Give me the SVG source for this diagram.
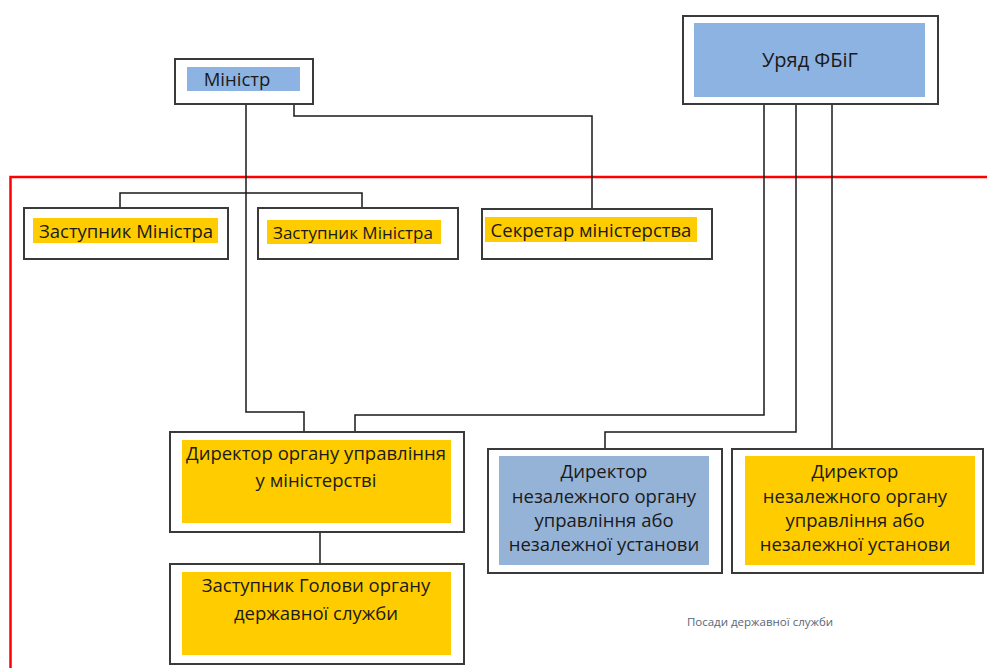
<svg xmlns="http://www.w3.org/2000/svg" width="987" height="668" viewBox="0 0 987 668">
<style>
.box{fill:#fff;stroke:#3a3a3a;stroke-width:2}
.y{fill:#ffcc00}
.b{fill:#8db3e2}
.b2{fill:#95b3d7}
.t{font-family:"Open Sans","Noto Sans","DejaVu Sans",sans-serif;font-size:18.5px;fill:#1a1a1a;text-anchor:middle}
.conn{fill:none;stroke:#1a1a1a;stroke-width:1.5}
</style>
<rect x="0" y="0" width="987" height="668" fill="#fff"/>
<rect id="frame" x="10.5" y="177" width="990" height="510" fill="none" stroke="#ff0000" stroke-width="2.5"/>
<g id="connectors">
<path class="conn" d="M246,105 V412 H304 V432"/>
<path class="conn" d="M294,105 V116 H592 V209"/>
<path class="conn" d="M120,208 V193 H362 V208"/>
<path class="conn" d="M764,104 V415 H355 V432"/>
<path class="conn" d="M796,104 V432 H605 V449"/>
<path class="conn" d="M832,104 V449"/>
<path class="conn" d="M320,532 V564"/>
</g>
<g id="minister">
<rect class="box" x="175" y="59" width="138" height="45"/>
<rect class="b" x="187" y="67" width="113" height="24"/>
<text class="t" x="237" y="86">Міністр</text>
</g>
<g id="government">
<rect class="box" x="683" y="16" width="255" height="88"/>
<rect class="b" x="694" y="23" width="231" height="74"/>
<text class="t" x="810" y="67" style="font-size:20px">Уряд ФБіГ</text>
</g>
<g id="deputy1">
<rect class="box" x="24" y="208" width="204" height="51"/>
<rect class="y" x="33" y="218" width="185" height="25"/>
<text class="t" x="126" y="238">Заступник Міністра</text>
</g>
<g id="deputy2">
<rect class="box" x="258" y="208" width="200" height="51"/>
<rect class="y" x="267" y="220" width="174" height="24"/>
<text class="t" x="353" y="239" style="font-size:17px">Заступник Міністра</text>
</g>
<g id="secretary">
<rect class="box" x="482" y="209" width="230" height="50"/>
<rect class="y" x="485" y="217" width="212" height="25"/>
<text class="t" x="591" y="237">Секретар міністерства</text>
</g>
<g id="director-ministry">
<rect class="box" x="170" y="432" width="294" height="100"/>
<rect class="y" x="182" y="440" width="269" height="83"/>
<text class="t" x="316" y="460">Директор органу управління</text>
<text class="t" x="316" y="487">у міністерстві</text>
</g>
<g id="deputy-head">
<rect class="box" x="170" y="564" width="294" height="100"/>
<rect class="y" x="182" y="572" width="269" height="83"/>
<text class="t" x="316" y="592">Заступник Голови органу</text>
<text class="t" x="316" y="620">державної служби</text>
</g>
<g id="director-independent-1">
<rect class="box" x="488" y="449" width="234" height="124"/>
<rect class="b2" x="499" y="456" width="210" height="109"/>
<text class="t" x="604" y="478">Директор</text>
<text class="t" x="604" y="503">незалежного органу</text>
<text class="t" x="604" y="527">управління або</text>
<text class="t" x="604" y="551">незалежної установи</text>
</g>
<g id="director-independent-2">
<rect class="box" x="732" y="449" width="251" height="124"/>
<rect class="y" x="745" y="456" width="230" height="109"/>
<text class="t" x="855" y="478">Директор</text>
<text class="t" x="855" y="503">незалежного органу</text>
<text class="t" x="855" y="527">управління або</text>
<text class="t" x="855" y="551">незалежної установи</text>
</g>
<text id="caption" x="760" y="626" style="font-family:'Open Sans','Noto Sans',sans-serif;font-size:11.5px;fill:#5a6577;text-anchor:middle">Посади державної служби</text>
</svg>
